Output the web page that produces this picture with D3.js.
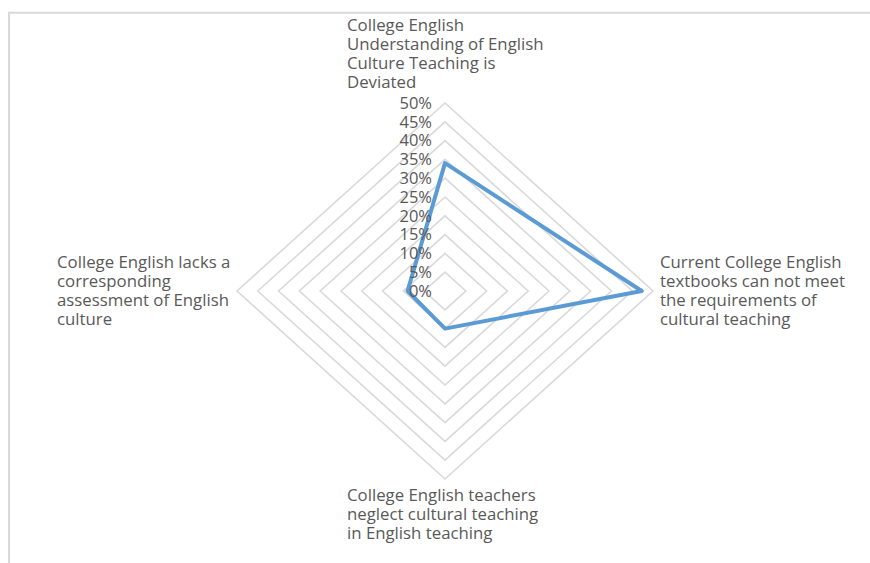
<!DOCTYPE html>
<html>
<head>
<meta charset="utf-8">
<script src="https://cdn.jsdelivr.net/npm/d3@7"></script>
<style>
  body { margin: 0; background: #fff; }
  text { font-family: "Open Sans", sans-serif; fill: #595959; }
</style>
</head>
<body>
<div id="chart"></div>
<script>
// categories (one per spoke, clockwise from top), label lines as shown
let categories = [
    ["College English", "Understanding of English", "Culture Teaching is", "Deviated"],
    ["Current College English", "textbooks can not meet", "the requirements of", "cultural teaching"],
    ["College English teachers", "neglect cultural teaching", "in English teaching"],
    ["College English lacks a", "corresponding", "assessment of English", "culture"]
];
let values = [0.34, 0.473, 0.10, 0.09];
let ticks = [0, 0.05, 0.10, 0.15, 0.20, 0.25, 0.30, 0.35, 0.40, 0.45, 0.50];

let width = 870, height = 563;
let cx = 445, cy = 291;

let svg = d3.select("#chart").append("svg")
    .attr("width", width)
    .attr("height", height);

// frame (only top and left edges show in the picture)
svg.append("path")
    .attr("d", "M9,563 L9,12.7 L870,12.7")
    .attr("fill", "none")
    .attr("stroke", "#d9d9d9")
    .attr("stroke-width", 2);

// the picture is stretched a little wider than tall
let rx = d3.scaleLinear().domain([0, 0.5]).range([0, 208]);
let ry = d3.scaleLinear().domain([0, 0.5]).range([0, 188]);
let angle = d3.scaleLinear().domain([0, categories.length]).range([0, 2 * Math.PI]);

function px(v, i) { return cx + rx(v) * Math.sin(angle(i)); }
function py(v, i) { return cy - ry(v) * Math.cos(angle(i)); }

// grid diamonds
let g = svg.append("g");
g.selectAll(".ring")
    .data(ticks.filter(t => t > 0))
    .enter().append("polygon")
    .attr("class", "ring")
    .attr("points", t => categories.map((c, i) => px(t, i) + "," + py(t, i)).join(" "))
    .attr("fill", "none")
    .attr("stroke", "#d9d9d9")
    .attr("stroke-width", 1.6);

// data line
let line = d3.line()
    .x((d, i) => px(d, i))
    .y((d, i) => py(d, i))
    .curve(d3.curveLinearClosed);

g.append("path")
    .datum(values)
    .attr("d", line)
    .attr("fill", "none")
    .attr("stroke", "#5b9bd5")
    .attr("stroke-width", 4)
    .attr("stroke-linejoin", "round");

// tick labels along the top spoke
g.selectAll(".tick")
    .data(ticks)
    .enter().append("text")
    .attr("class", "tick")
    .attr("x", 432)
    .attr("y", t => cy - ry(t))
    .attr("dy", "0.35em")
    .attr("text-anchor", "end")
    .attr("font-size", "16.5px")
    .text(t => Math.round(t * 100) + "%");

// category labels
let labelPos = [
    { x: 347, y: 30.5 },
    { x: 660, y: 267.5 },
    { x: 347, y: 501 },
    { x: 57, y: 267.5 }
];

categories.forEach(function(lines, i) {
    let t = svg.append("text")
        .attr("x", labelPos[i].x)
        .attr("y", labelPos[i].y)
        .attr("font-size", "16.8px");
    t.selectAll("tspan")
        .data(lines)
        .enter().append("tspan")
        .attr("x", labelPos[i].x)
        .attr("dy", (d, j) => j === 0 ? 0 : 19.2)
        .text(d => d);
});
</script>
</body>
</html>
